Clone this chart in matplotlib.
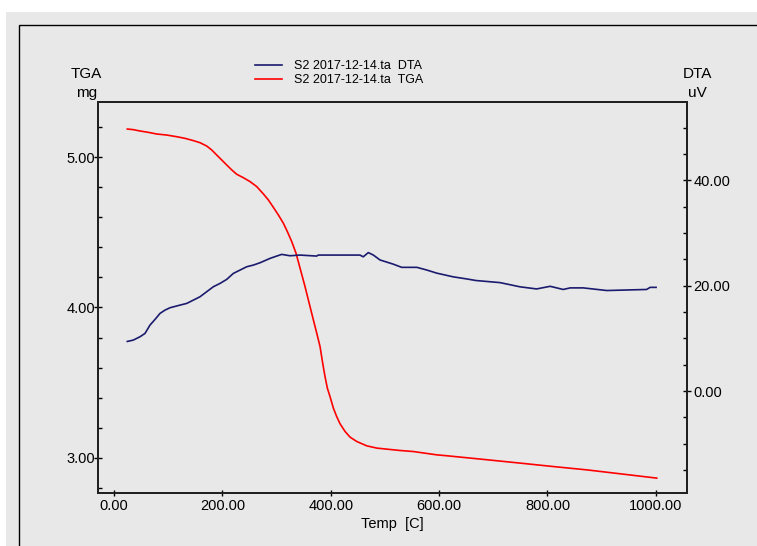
import matplotlib
matplotlib.use("Agg")
import matplotlib.pyplot as plt
from matplotlib.ticker import MultipleLocator, FormatStrFormatter
from matplotlib.patches import Rectangle

plt.rcParams['font.family'] = ['Liberation Sans', 'DejaVu Sans']

# TGA (mg) vs temperature (C)
tga_temp = [24.6, 35.7, 48.0, 63.4, 78.8, 97.2, 115.7, 131.1, 146.5, 158.8, 171.1, 180.3,
            189.6, 198.8, 208.0, 217.3, 226.5, 238.8, 251.1, 263.4, 275.7, 284.9, 294.1,
            303.4, 312.6, 320.0, 328.0, 336.0, 343.4, 352.6, 361.8, 368.0, 374.2, 380.3,
            385.2, 389.5, 393.8, 398.7, 404.9, 411.0, 417.2, 426.4, 435.7, 448.0, 466.5,
            484.9, 503.4, 528.0, 552.6, 595.7, 614, 675.6, 749.5, 811, 872.6, 934, 1001.8]
tga_mass = [5.188, 5.184, 5.175, 5.166, 5.155, 5.148, 5.137, 5.126, 5.111, 5.097, 5.075, 5.049,
            5.015, 4.982, 4.949, 4.916, 4.887, 4.864, 4.838, 4.805, 4.756, 4.716, 4.667,
            4.616, 4.561, 4.505, 4.439, 4.361, 4.262, 4.139, 4.006, 3.917, 3.829, 3.740,
            3.629, 3.540, 3.463, 3.407, 3.330, 3.274, 3.226, 3.175, 3.137, 3.108, 3.079,
            3.064, 3.057, 3.048, 3.041, 3.019, 3.013, 2.991, 2.964, 2.941, 2.919, 2.893, 2.864]

# DTA (uV) vs temperature (C)
dta_temp = [24.6, 35.7, 48.0, 57.2, 66.5, 75.7, 84.9, 94.1, 103.4, 121.8, 134.2, 146.5,
            158.8, 171.1, 183.4, 195.7, 208.0, 220.3, 232.6, 244.9, 257.2, 269.5, 288.0,
            300.3, 309.5, 324.9, 343.4, 374, 377, 454, 460, 469.4, 478.7, 491, 515.6, 531,
            559, 577, 595.7, 626, 651, 668, 712.6, 749.5, 780, 805, 829, 842, 866, 909.5,
            983, 989.5, 1000.5]
dta_uv = [9.43, 9.69, 10.32, 10.95, 12.54, 13.61, 14.75, 15.38, 15.83, 16.33, 16.65, 17.28,
          17.92, 18.87, 19.82, 20.45, 21.21, 22.35, 22.98, 23.61, 23.93, 24.37, 25.20,
          25.64, 25.96, 25.70, 25.83, 25.64, 25.83, 25.83, 25.5, 26.3, 25.83, 24.9, 24.1, 23.5,
          23.5, 23.0, 22.4, 21.7, 21.3, 21.0, 20.6, 19.8, 19.4, 19.9, 19.3, 19.6, 19.6, 19.1,
          19.3, 19.7, 19.7]

x_ticks = [0, 200, 400, 600, 800, 1000]
tga_ticks = [3, 4, 5]
dta_ticks = [0, 20, 40]

BG = '#e8e8e8'
NAVY = '#1a1a6e'
RED = '#ff0000'

W, H = 757, 546
fig = plt.figure(figsize=(W / 100, H / 100), dpi=100)
fig.patch.set_facecolor('white')

def fx(px):
    return px / W

def fy(py):
    return 1 - py / H

# gray panel and outer frame
fig.patches.append(Rectangle((fx(6), 0), 1, fy(12), transform=fig.transFigure,
                             facecolor=BG, edgecolor='none', zorder=-10))
fig.patches.append(Rectangle((fx(19), -0.1), 1.2, fy(25) + 0.1, transform=fig.transFigure,
                             facecolor='none', edgecolor='black', linewidth=1.0, zorder=-9))

left, right, top, bottom = 98, 686.7, 101.7, 493.3
ax = fig.add_axes([fx(left), fy(bottom), (right - left) / W, (bottom - top) / H])
ax.set_facecolor(BG)
ax2 = ax.twinx()

l_dta, = ax2.plot(dta_temp, dta_uv, color=NAVY, lw=1.2)
l_tga, = ax.plot(tga_temp, tga_mass, color=RED, lw=1.2)

ax.set_xlim(-29.5, 1057)
ax.set_ylim(2.763, 5.37)
ax2.set_ylim(-19.4, 54.95)

ax.set_xticks(x_ticks)
ax.xaxis.set_major_formatter(FormatStrFormatter('%.2f'))
ax.set_yticks(tga_ticks)
ax.yaxis.set_major_formatter(FormatStrFormatter('%.2f'))
ax.yaxis.set_minor_locator(MultipleLocator(0.2))
ax2.set_yticks(dta_ticks)
ax2.yaxis.set_major_formatter(FormatStrFormatter('%.2f'))
ax2.yaxis.set_minor_locator(MultipleLocator(5))

for a in (ax, ax2):
    for s in a.spines.values():
        s.set_linewidth(1.3)
        s.set_color('#202020')

ax.tick_params(axis='x', which='major', direction='inout', length=5, width=1, pad=1.5, labelsize=10.5)
ax.tick_params(axis='y', which='major', direction='inout', length=6, width=1, pad=-1, labelsize=10.5)
ax.tick_params(axis='y', which='minor', direction='in', length=3, width=1)
ax2.tick_params(axis='y', which='major', direction='inout', length=6, width=1, pad=2, labelsize=10.5)
ax2.tick_params(axis='y', which='minor', direction='in', length=3, width=1)

ax.set_xlabel('Temp  [C]', fontsize=10.5, labelpad=3)

fig.text(fx(86.5), fy(74), 'TGA', ha='center', va='center', fontsize=11)
fig.text(fx(87), fy(93), 'mg', ha='center', va='center', fontsize=11)
fig.text(fx(697), fy(74), 'DTA', ha='center', va='center', fontsize=11)
fig.text(fx(697), fy(93), 'uV', ha='center', va='center', fontsize=11)

fig.legend([l_dta, l_tga], ['S2 2017-12-14.ta  DTA', 'S2 2017-12-14.ta  TGA'],
           loc='upper left', bbox_to_anchor=(fx(255), fy(60)), frameon=False,
           fontsize=9, handlelength=2.16, handletextpad=0.96, labelspacing=0.18,
           borderaxespad=0, borderpad=0)

fig.savefig('out.png', dpi=100, facecolor=fig.get_facecolor())
